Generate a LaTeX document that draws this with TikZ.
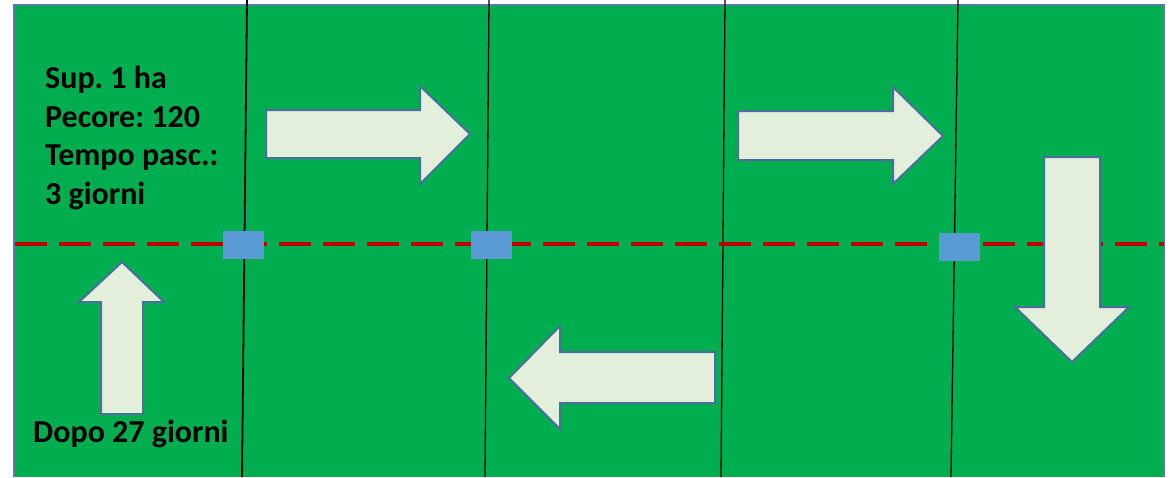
\documentclass[tikz,border=0pt]{standalone}
\usepackage{fontspec}
\setmainfont{Carlito}
\frenchspacing
\definecolor{fieldgreen}{HTML}{00AE4F}
\definecolor{fieldborder}{HTML}{5A7BA8}
\definecolor{dashred}{HTML}{C00000}
\definecolor{gateblue}{HTML}{5B9BD5}
\definecolor{arrowfill}{HTML}{E2EFDA}
\definecolor{arrowline}{HTML}{4A6E9E}
\tikzset{
  fence/.style={black, line width=1.3pt},
  gate/.style={fill=gateblue, draw=none, minimum width=41pt, minimum height=28pt, inner sep=0pt},
  bigarrow/.style={fill=arrowfill, draw=arrowline, line width=2pt, line join=miter},
  lbl/.style={font=\bfseries\fontsize{32}{38.5}\selectfont, inner sep=0pt, align=left},
}
\begin{document}
\begin{tikzpicture}[x=1pt, y=-1pt]
\useasboundingbox (0,0) rectangle (1175,477);
\fill[white] (0,0) rectangle (1175,477);
% field
\fill[fieldgreen] (14,5) rectangle (1164,477);
\draw[fieldborder, line width=1.5pt] (14,477) -- (14,5) -- (1164,5) -- (1164,477);
% fences
\coordinate (f1t) at (247,0); \coordinate (f1b) at (242,477);
\coordinate (f2t) at (489,0); \coordinate (f2b) at (485,477);
\coordinate (f3t) at (725,0); \coordinate (f3b) at (721,477);
\coordinate (f4t) at (958,0); \coordinate (f4b) at (951,477);
\draw[fence, line width=1.8pt] (f1t) -- (f1b);
\draw[fence] (f2t) -- (f2b);
\draw[fence] (f3t) -- (f3b);
\draw[fence] (f4t) -- (f4b);
% dashed line
\coordinate (dl) at (15,244); \coordinate (dr) at (1164,244);
\draw[dashred, line width=3.5pt, dash pattern=on 32pt off 12pt] (dl) -- (dr);
% gates
\node[gate] (g1) at (243.5,245) {};
\node[gate] (g2) at (491.5,245) {};
\node[gate] (g3) at (959.5,247) {};
% arrows
\draw[bigarrow] (266,110) -- (420,110) -- (420,86) -- (470,134) -- (420,184) -- (420,158) -- (266,158) -- cycle;
\draw[bigarrow] (738,111) -- (893,111) -- (893,87) -- (943,136) -- (893,184) -- (893,160) -- (738,160) -- cycle;
\draw[bigarrow] (1044,157) -- (1100,157) -- (1100,307) -- (1129,307) -- (1072,362) -- (1015,307) -- (1044,307) -- cycle;
\draw[bigarrow] (715,352) -- (560,352) -- (560,326) -- (509,378) -- (560,429) -- (560,403) -- (715,403) -- cycle;
\draw[bigarrow] (101,414) -- (101,302) -- (79,302) -- (122,262) -- (164,302) -- (143,302) -- (143,414) -- cycle;
% labels
\node[lbl, anchor=base west] (info) at (45,204) {Sup. 1 ha\\Pecore: 120\\Tempo pasc.:\\3 giorni};
\node[lbl, anchor=base west] (after) at (33,442) {Dopo 27 giorni};
\end{tikzpicture}
\end{document}
